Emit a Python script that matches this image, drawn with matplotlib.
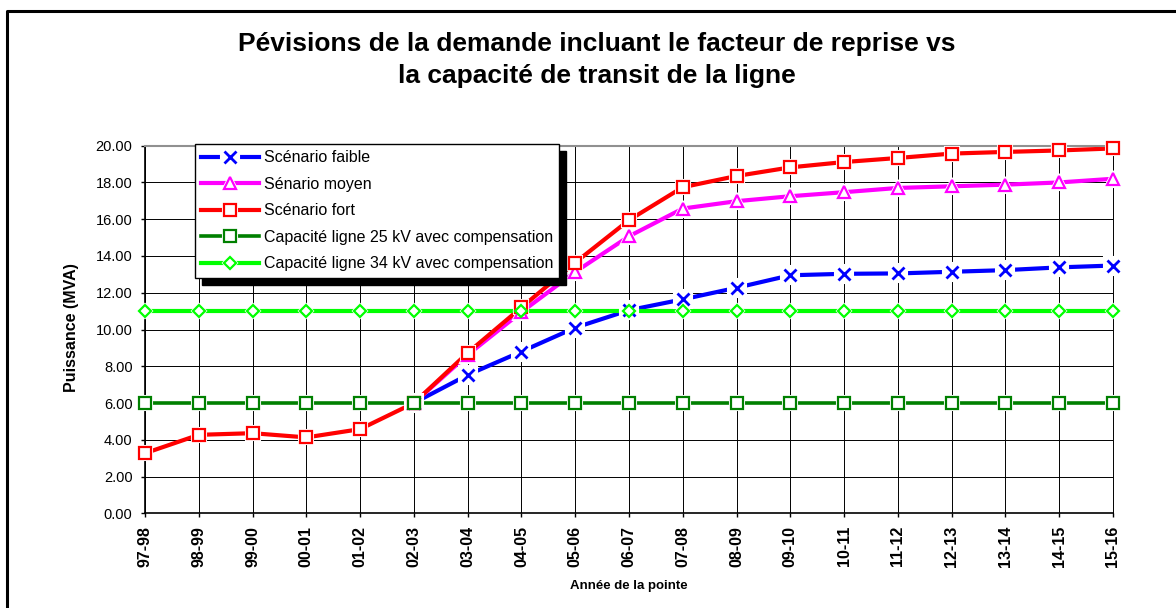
import numpy as np
import matplotlib.pyplot as plt
from matplotlib.lines import Line2D
from matplotlib.patches import Rectangle
from matplotlib.transforms import IdentityTransform
from matplotlib.legend_handler import HandlerTuple

plt.rcParams['font.family'] = ['Liberation Sans', 'DejaVu Sans']

# Données (MVA)
ANNEES = ["97-98", "98-99", "99-00", "00-01", "01-02", "02-03", "03-04", "04-05",
          "05-06", "06-07", "07-08", "08-09", "09-10", "10-11", "11-12", "12-13",
          "13-14", "14-15", "15-16"]
NAN = np.nan
FAIBLE = [NAN, NAN, NAN, NAN, NAN, 6.00, 7.53, 8.80, 10.10, 11.05, 11.64, 12.27,
          12.95, 13.03, 13.05, 13.14, 13.23, 13.38, 13.48]
MOYEN = [NAN, NAN, NAN, NAN, NAN, 6.00, 8.62, 10.95, 13.13, 15.07, 16.58, 16.98,
         17.25, 17.47, 17.70, 17.79, 17.88, 18.00, 18.20]
FORT = [3.27, 4.27, 4.36, 4.13, 4.58, 6.00, 8.73, 11.20, 13.64, 15.95, 17.74, 18.35,
        18.82, 19.11, 19.33, 19.57, 19.66, 19.74, 19.85]
CAP_25KV = [6.0] * 19
CAP_34KV = [11.0] * 19

LABELS = ["Scénario faible", "Sénario moyen", "Scénario fort",
          "Capacité ligne 25 kV avec compensation",
          "Capacité ligne 34 kV avec compensation"]

# label, valeurs, couleur, marqueur, taille, épaisseur, halo
series = [
    (LABELS[0], FAIBLE, "#0000FF", "x", 9, 3.0, ("s", 12.5)),
    (LABELS[1], MOYEN, "#FF00FF", "^", 8.5, 3.0, ("^", 11)),
    (LABELS[2], FORT, "#FF0000", "s", 8, 3.0, ("s", 10.5)),
    (LABELS[3], CAP_25KV, "#008000", "s", 8, 2.6, ("s", 10)),
    (LABELS[4], CAP_34KV, "#00FF00", "D", 6.5, 3.0, ("D", 7.5)),
]

fig = plt.figure(figsize=(11.76, 6.08), dpi=100)
ax = fig.add_axes([0.1233, 0.1557, 0.8231, 0.6047])

x = np.arange(len(ANNEES))
lines, halos, marks = [], [], []
for label, vals, color, mk, ms, lw, (hmk, hms) in series:
    ln, = ax.plot(x, vals, color=color, lw=lw, zorder=2, clip_on=False)
    lines.append(ln)
for label, vals, color, mk, ms, lw, (hmk, hms) in series:
    h, = ax.plot(x, vals, ls='none', marker=hmk, ms=hms, mfc='white', mec='white',
                 mew=1.5, zorder=3, clip_on=False)
    halos.append(h)
for label, vals, color, mk, ms, lw, (hmk, hms) in series:
    mfc = 'none' if mk == 'x' else 'white'
    m, = ax.plot(x, vals, ls='none', marker=mk, ms=ms, mfc=mfc, mec=color,
                 mew=2 if mk == 'x' else 1.6, zorder=4, clip_on=False)
    marks.append(m)
handles = [(l, h, m) for l, h, m in zip(lines, halos, marks)]

ax.set_xlim(0, len(ANNEES) - 1)
ax.set_ylim(0, 20)
ax.set_yticks(np.arange(0, 21, 2))
ax.set_yticklabels([f"{v:.2f}" for v in np.arange(0, 21, 2)], fontsize=10.5)
ax.set_xticks(x)
ax.set_xticklabels(ANNEES, rotation=90, fontsize=11.5, fontweight='bold')
ax.tick_params(axis='both', direction='out', length=3, width=1, color='black', pad=6)
ax.grid(True, color='black', lw=0.7, zorder=0)
ax.set_axisbelow(True)
for side in ['left', 'bottom']:
    ax.spines[side].set_linewidth(1.2)
ax.spines['top'].set_color('#909090')
ax.spines['top'].set_linewidth(1.5)
ax.spines['right'].set_linewidth(0.7)

fig.text(0.0604, 0.462, "Puissance (MVA)", rotation=90, ha='center', va='center',
         fontsize=11.5, fontweight='bold')
fig.text(0.535, 0.036, "Année de la pointe", ha='center', va='center',
         fontsize=9.5, fontweight='bold')

fig.text(0.5077, 1 - 51 / 608, "Pévisions de la demande incluant le facteur de reprise vs",
         ha='center', va='baseline', fontsize=19, fontweight='bold')
fig.text(0.5077, 1 - 83 / 608, "la capacité de transit de la ligne",
         ha='center', va='baseline', fontsize=19, fontweight='bold')

leg = ax.legend(handles, LABELS, handler_map={tuple: HandlerTuple(ndivide=1, pad=0)},
                loc='upper left', bbox_to_anchor=(0.0517, 1.005), borderaxespad=0,
                fancybox=False, edgecolor='black', framealpha=1, fontsize=11.5,
                handlelength=3.6, handletextpad=0.3, labelspacing=0.72,
                borderpad=0.4, numpoints=1)
leg.get_frame().set_linewidth(1.0)
leg.set_zorder(10)

# ombre portée de la légende
fig.canvas.draw()
bb = leg.get_window_extent()
ax.add_patch(Rectangle((bb.x0 + 7, bb.y0 - 7), bb.width, bb.height,
                       transform=IdentityTransform(), color='black',
                       zorder=9, clip_on=False))

# cadre du graphique
fig.add_artist(Line2D([7 / 1176, 7 / 1176, 1.0], [0.0, 1 - 11 / 608, 1 - 11 / 608],
                      transform=fig.transFigure, color='black', lw=2.2))

fig.savefig("out.png", dpi=100)
